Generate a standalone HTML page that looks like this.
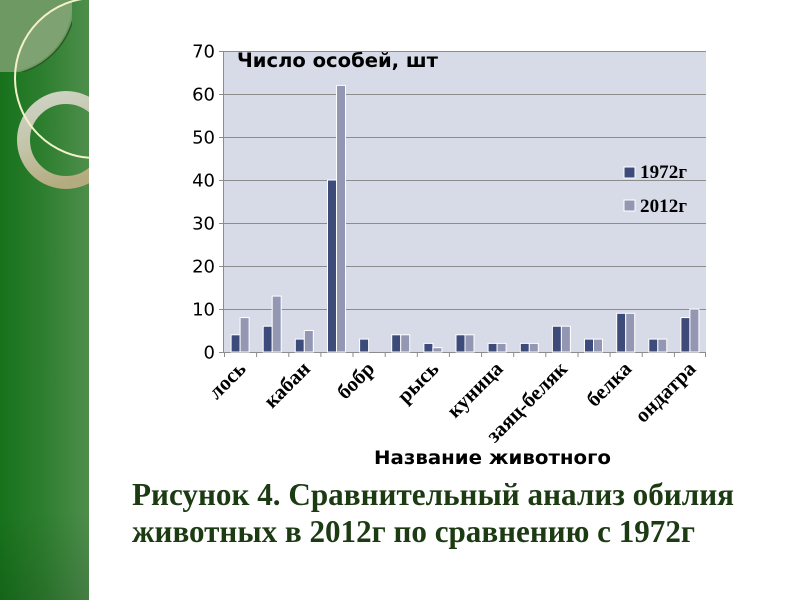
<!DOCTYPE html>
<html>
<head>
<meta charset="utf-8">
<style>
  html, body { margin:0; padding:0; background:#ffffff; }
  body { width:800px; height:600px; overflow:hidden; }
  svg { display:block; }
</style>
</head>
<body>
<svg width="800" height="600" viewBox="0 0 800 600" xmlns="http://www.w3.org/2000/svg">
  <defs>
    <linearGradient id="gp" x1="0" y1="0" x2="1" y2="0">
      <stop offset="0" stop-color="#17721b"/>
      <stop offset="0.5" stop-color="#2e7f30"/>
      <stop offset="1" stop-color="#4e8e4c"/>
    </linearGradient>
    <linearGradient id="gv" x1="0" y1="0" x2="0" y2="1">
      <stop offset="0" stop-color="#000" stop-opacity="0"/>
      <stop offset="0.85" stop-color="#000" stop-opacity="0"/>
      <stop offset="1" stop-color="#000" stop-opacity="0.12"/>
    </linearGradient>
    <linearGradient id="ring" x1="0.2" y1="0" x2="0.5" y2="1">
      <stop offset="0" stop-color="#cdd2c2"/>
      <stop offset="0.5" stop-color="#c3c4a8"/>
      <stop offset="1" stop-color="#b4ab80"/>
    </linearGradient>
    <clipPath id="panel"><rect x="0" y="0" width="89" height="600"/></clipPath>
    <clipPath id="quarter">
      <path d="M0,0 L72,0 L72,72 L0,72 Z"/>
    </clipPath>
    <clipPath id="qc"><circle cx="0" cy="0" r="73"/></clipPath>
  </defs>

  <!-- Left green panel -->
  <g clip-path="url(#panel)">
    <rect x="0" y="0" width="89" height="600" fill="url(#gp)"/>
    <rect x="0" y="0" width="89" height="600" fill="url(#gv)"/>
    <g clip-path="url(#quarter)">
      <circle cx="0" cy="0" r="75" fill="#6e9963"/>
      <g clip-path="url(#qc)">
        <circle cx="95" cy="78" r="80" fill="#7ea272"/>
      </g>
      <circle cx="0" cy="0" r="75.5" fill="none" stroke="#2a5a26" stroke-width="1.5"/>
    </g>
    <circle cx="66" cy="140" r="42.5" fill="none" stroke="url(#ring)" stroke-width="13"/>
    <circle cx="95" cy="78" r="80" fill="none" stroke="#f3f1cb" stroke-width="2"/>
  </g>

  <!-- Plot area -->
  <rect x="224" y="51" width="482" height="301" fill="#d7dbe8"/>
  <g stroke="#8c8c8c" stroke-width="1">
    <line x1="219" y1="51.5" x2="706" y2="51.5"/>
    <line x1="219" y1="94.5" x2="706" y2="94.5"/>
    <line x1="219" y1="137.5" x2="706" y2="137.5"/>
    <line x1="219" y1="180.5" x2="706" y2="180.5"/>
    <line x1="219" y1="223.5" x2="706" y2="223.5"/>
    <line x1="219" y1="266.5" x2="706" y2="266.5"/>
    <line x1="219" y1="309.5" x2="706" y2="309.5"/>
    <line x1="219" y1="352.5" x2="706" y2="352.5"/>
    <line x1="223.5" y1="51" x2="223.5" y2="353"/>
  </g>
  <!-- category ticks -->
  <g stroke="#8c8c8c" stroke-width="1">
    <line x1="224.5" y1="352" x2="224.5" y2="357"/>
    <line x1="256.6" y1="352" x2="256.6" y2="357"/>
    <line x1="288.8" y1="352" x2="288.8" y2="357"/>
    <line x1="320.9" y1="352" x2="320.9" y2="357"/>
    <line x1="353.0" y1="352" x2="353.0" y2="357"/>
    <line x1="385.2" y1="352" x2="385.2" y2="357"/>
    <line x1="417.3" y1="352" x2="417.3" y2="357"/>
    <line x1="449.4" y1="352" x2="449.4" y2="357"/>
    <line x1="481.6" y1="352" x2="481.6" y2="357"/>
    <line x1="513.7" y1="352" x2="513.7" y2="357"/>
    <line x1="545.8" y1="352" x2="545.8" y2="357"/>
    <line x1="578.0" y1="352" x2="578.0" y2="357"/>
    <line x1="610.1" y1="352" x2="610.1" y2="357"/>
    <line x1="642.2" y1="352" x2="642.2" y2="357"/>
    <line x1="674.4" y1="352" x2="674.4" y2="357"/>
    <line x1="705.5" y1="352" x2="705.5" y2="357"/>
  </g>

  <!-- Bars -->
  <g stroke="#ffffff" stroke-width="1">
    <g fill="#3d4b7b">
      <rect x="231.1" y="334.8" width="9" height="17.2"/>
      <rect x="263.2" y="326.2" width="9" height="25.8"/>
      <rect x="295.3" y="339.1" width="9" height="12.9"/>
      <rect x="327.5" y="180" width="9" height="172"/>
      <rect x="359.6" y="339.1" width="9" height="12.9"/>
      <rect x="391.7" y="334.8" width="9" height="17.2"/>
      <rect x="423.9" y="343.4" width="9" height="8.6"/>
      <rect x="456.0" y="334.8" width="9" height="17.2"/>
      <rect x="488.1" y="343.4" width="9" height="8.6"/>
      <rect x="520.3" y="343.4" width="9" height="8.6"/>
      <rect x="552.4" y="326.2" width="9" height="25.8"/>
      <rect x="584.5" y="339.1" width="9" height="12.9"/>
      <rect x="616.7" y="313.3" width="9" height="38.7"/>
      <rect x="648.8" y="339.1" width="9" height="12.9"/>
      <rect x="680.9" y="317.6" width="9" height="34.4"/>
    </g>
    <g fill="#9497b3">
      <rect x="240.1" y="317.6" width="9" height="34.4"/>
      <rect x="272.2" y="296.1" width="9" height="55.9"/>
      <rect x="304.3" y="330.5" width="9" height="21.5"/>
      <rect x="336.5" y="85.4" width="9" height="266.6"/>
      <rect x="400.7" y="334.8" width="9" height="17.2"/>
      <rect x="432.9" y="347.7" width="9" height="4.3"/>
      <rect x="465.0" y="334.8" width="9" height="17.2"/>
      <rect x="497.1" y="343.4" width="9" height="8.6"/>
      <rect x="529.3" y="343.4" width="9" height="8.6"/>
      <rect x="561.4" y="326.2" width="9" height="25.8"/>
      <rect x="593.5" y="339.1" width="9" height="12.9"/>
      <rect x="625.7" y="313.3" width="9" height="38.7"/>
      <rect x="657.8" y="339.1" width="9" height="12.9"/>
      <rect x="689.9" y="309" width="9" height="43"/>
    </g>
  </g>

  <!-- Y labels -->
  <g font-family="'DejaVu Sans', 'Liberation Sans', sans-serif" font-size="18" fill="#000" text-anchor="end">
    <text x="215" y="57.5">70</text>
    <text x="215" y="100.5">60</text>
    <text x="215" y="143.5">50</text>
    <text x="215" y="186.5">40</text>
    <text x="215" y="229.5">30</text>
    <text x="215" y="272.5">20</text>
    <text x="215" y="315.5">10</text>
    <text x="215" y="358.5">0</text>
  </g>

  <!-- Chart title -->
  <text x="237" y="67" font-family="'DejaVu Sans', 'Liberation Sans', sans-serif" font-weight="bold" font-size="19.5" fill="#000" textLength="201" lengthAdjust="spacingAndGlyphs">Число особей, шт</text>

  <!-- Legend -->
  <rect x="624" y="167" width="11" height="11" fill="#3d4b7b" stroke="#fff" stroke-width="1"/>
  <rect x="624" y="200" width="11" height="11" fill="#9497b3" stroke="#fff" stroke-width="1"/>
  <g font-family="'Liberation Serif', 'Noto Serif CJK SC', serif" font-weight="bold" font-size="19" fill="#000">
    <text x="640" y="178" textLength="47" lengthAdjust="spacing">1972г</text>
    <text x="640" y="212" textLength="47" lengthAdjust="spacing">2012г</text>
  </g>

  <!-- X labels -->
  <g font-family="'Liberation Serif', 'Noto Serif CJK SC', serif" font-weight="bold" font-size="21" fill="#000" text-anchor="end">
    <text transform="translate(247,370) rotate(-45)">лось</text>
    <text transform="translate(311.3,370) rotate(-45)">кабан</text>
    <text transform="translate(375.6,370) rotate(-45)">бобр</text>
    <text transform="translate(439.9,370) rotate(-45)">рысь</text>
    <text transform="translate(504.1,370) rotate(-45)">куница</text>
    <text transform="translate(568.4,370) rotate(-45)">заяц-беляк</text>
    <text transform="translate(632.7,370) rotate(-45)">белка</text>
    <text transform="translate(696.9,370) rotate(-45)">ондатра</text>
  </g>

  <!-- X axis title -->
  <text x="374" y="464" font-family="'DejaVu Sans', 'Liberation Sans', sans-serif" font-weight="bold" font-size="18.5" fill="#000" textLength="237" lengthAdjust="spacingAndGlyphs">Название животного</text>

  <!-- Caption -->
  <g font-family="'Liberation Serif', 'Noto Serif CJK SC', serif" font-weight="bold" font-size="32" fill="#1c3b13">
    <text x="132" y="505" textLength="602" lengthAdjust="spacingAndGlyphs">Рисунок 4. Сравнительный анализ обилия</text>
    <text x="132" y="542" textLength="563" lengthAdjust="spacingAndGlyphs">животных в 2012г по сравнению с 1972г</text>
  </g>
</svg>
</body>
</html>
